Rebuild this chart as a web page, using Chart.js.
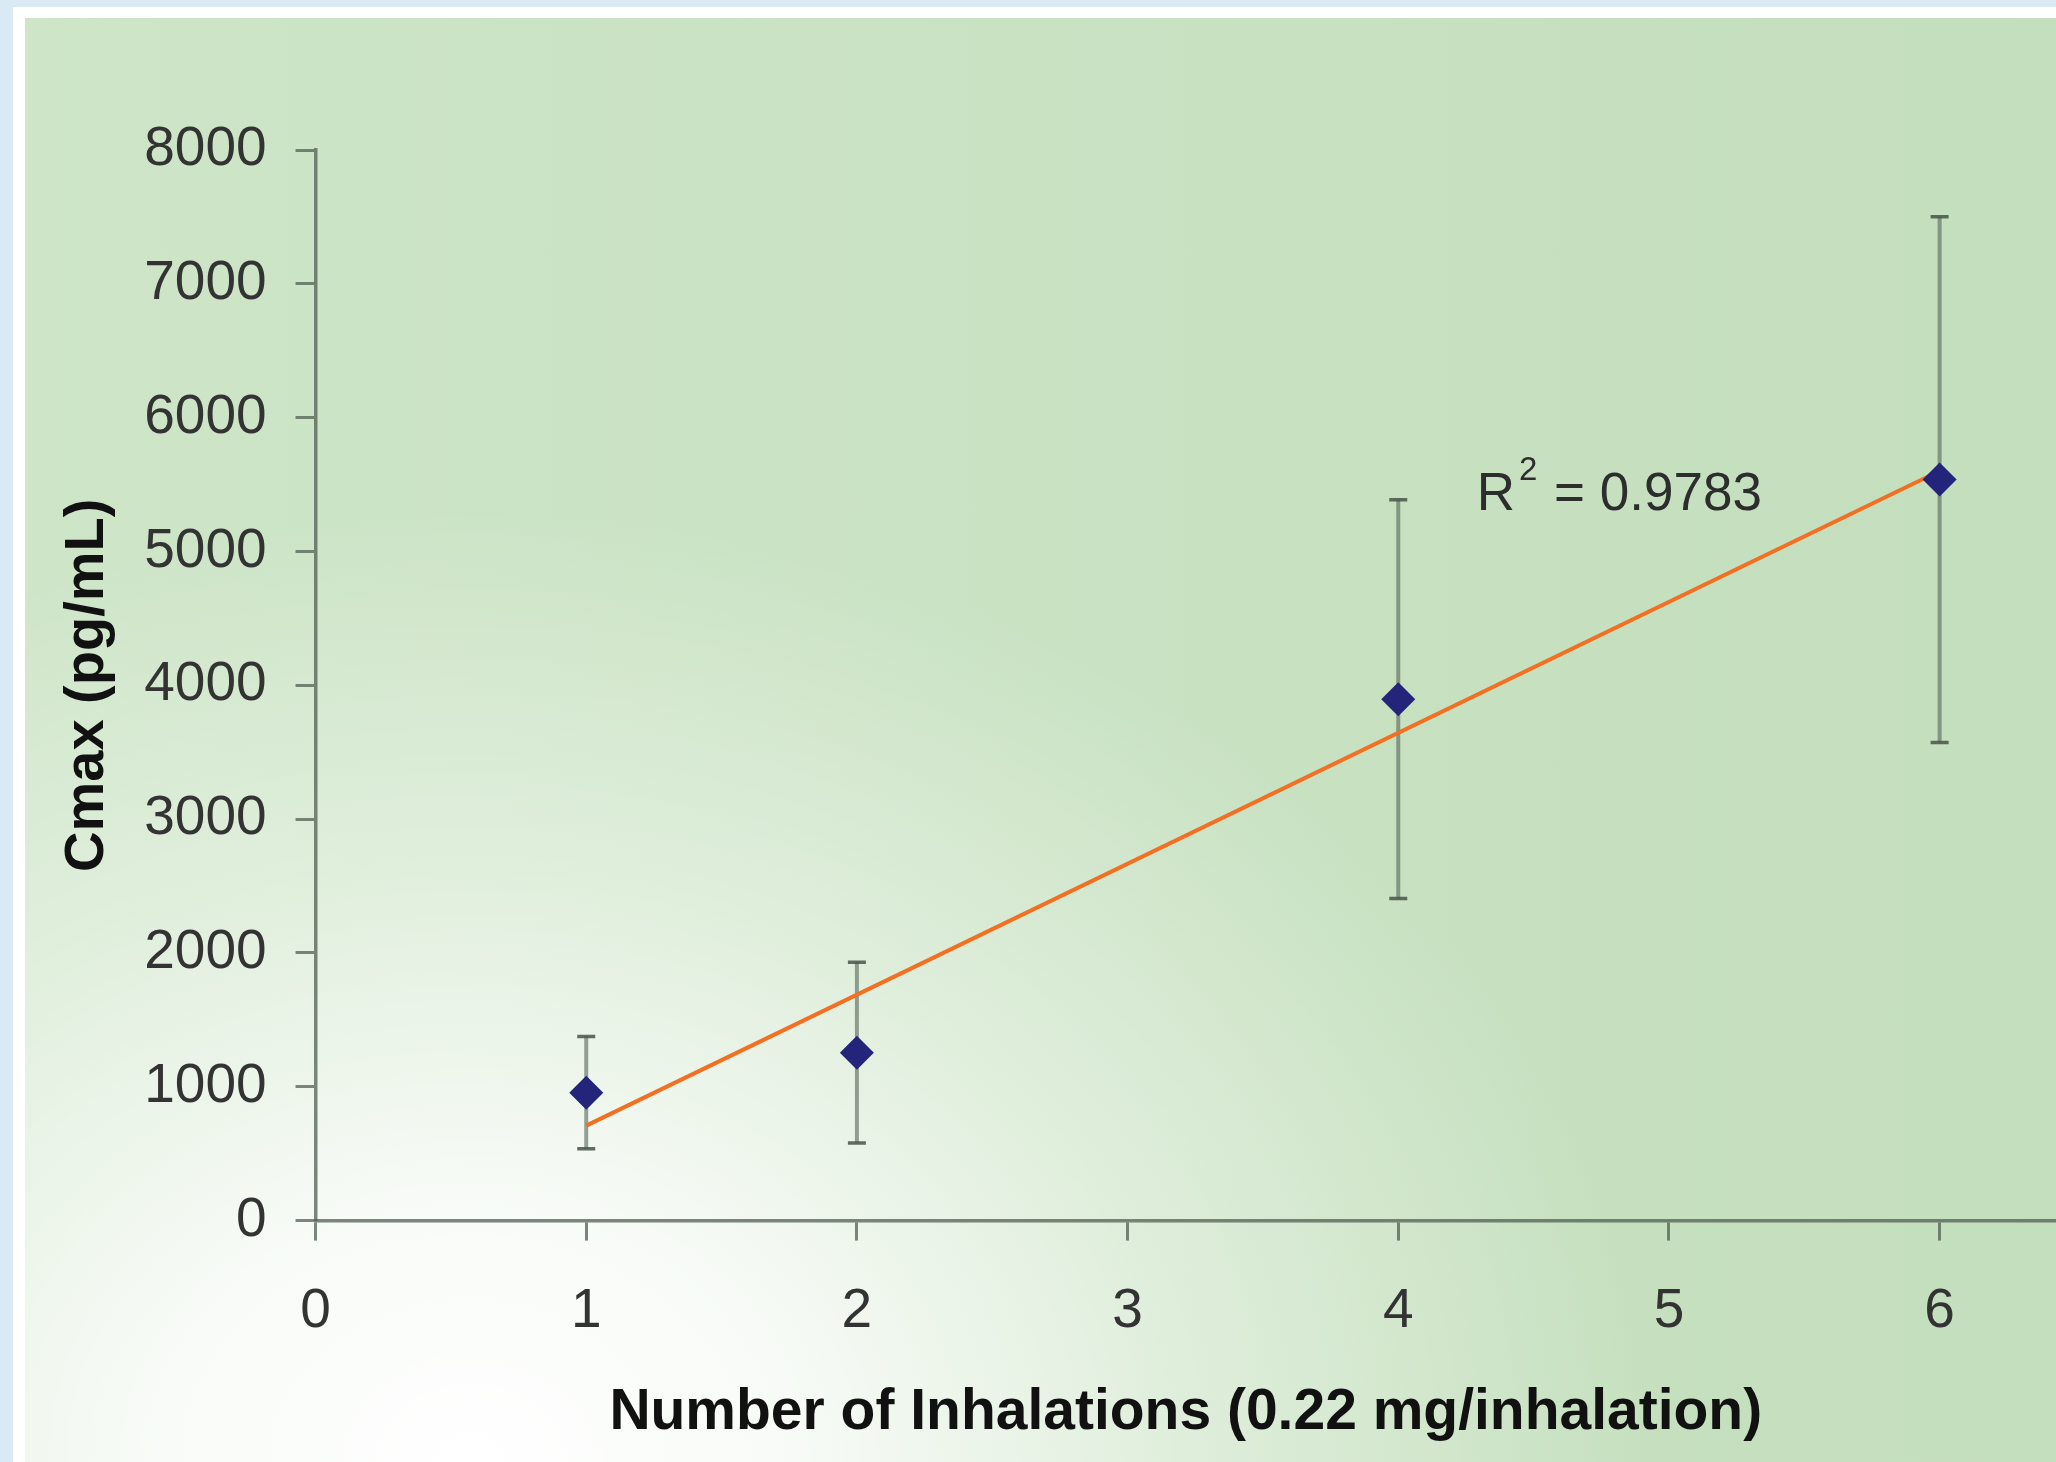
<!DOCTYPE html>
<html>
<head>
<meta charset="utf-8">
<script src="https://cdn.jsdelivr.net/npm/chart.js@4"></script>
<style>
  html, body { margin: 0; padding: 0; width: 2056px; height: 1462px; overflow: hidden; background: #d9eaf5; }
  #frame { position: absolute; left: 13px; top: 7px; right: 0; bottom: 0; background: #ffffff; }
  #panel {
    position: absolute; left: 25px; top: 18px; right: 0; bottom: 0;
    background:
      radial-gradient(ellipse 58% 66% at 22% 100%, rgba(255,255,255,1) 0%, rgba(255,255,255,0.85) 28%, rgba(255,255,255,0.4) 62%, rgba(255,255,255,0) 100%),
      linear-gradient(to right, #cee5c8, #c4dfbd);
  }
  #chart { position: absolute; left: 0; top: 0; }
</style>
</head>
<body>
<div id="frame"></div>
<div id="panel"></div>
<canvas id="chart" width="2056" height="1462"></canvas>
<script>
// data
const inhalations = [1, 2, 4, 6];
const cmaxMean = [956, 1255, 3896, 5537];
const cmaxSD = [420, 676, 1490, 1965];
const xTicks = [0, 1, 2, 3, 4, 5, 6];
const yTicks = [0, 1000, 2000, 3000, 4000, 5000, 6000, 7000, 8000];
const r2Text = '0.9783';
const r2At = [4.29, 5310]; // where the R² label sits, in data units

const navy = '#24247a';
const orange = '#f36f21';
const axisCol = 'rgba(80, 95, 82, 0.75)';
const errCol = 'rgba(85, 100, 88, 0.6)';
const capCol = 'rgba(70, 85, 72, 0.85)';
const font = "'Liberation Sans', Arial, sans-serif";

// linear trendline (least squares), drawn from first to last dose like Excel
function trend(xs, ys) {
    const n = xs.length;
    const mx = xs.reduce((a, b) => a + b, 0) / n;
    const my = ys.reduce((a, b) => a + b, 0) / n;
    let sxy = 0, sxx = 0;
    for (let i = 0; i < n; i++) {
        sxy += (xs[i] - mx) * (ys[i] - my);
        sxx += (xs[i] - mx) * (xs[i] - mx);
    }
    const slope = sxy / sxx;
    const icpt = my - slope * mx;
    const x0 = xs[0], x1 = xs[n - 1];
    return [{x: x0, y: icpt + slope * x0}, {x: x1, y: icpt + slope * x1}];
}

const errorBars = {
    id: 'errorBars',
    beforeDatasetsDraw(chart) {
        const {ctx, scales: {x, y}} = chart;
        ctx.save();
        inhalations.forEach((d, i) => {
            const px = x.getPixelForValue(d);
            const top = y.getPixelForValue(cmaxMean[i] + cmaxSD[i]);
            const bot = y.getPixelForValue(cmaxMean[i] - cmaxSD[i]);
            ctx.strokeStyle = errCol;
            ctx.lineWidth = 4;
            ctx.beginPath();
            ctx.moveTo(px, top);
            ctx.lineTo(px, bot);
            ctx.stroke();
            ctx.strokeStyle = capCol;
            ctx.lineWidth = 3.5;
            ctx.beginPath();
            ctx.moveTo(px - 9, top);
            ctx.lineTo(px + 9, top);
            ctx.moveTo(px - 9, bot);
            ctx.lineTo(px + 9, bot);
            ctx.stroke();
        });
        ctx.restore();
    }
};

const r2Label = {
    id: 'r2Label',
    afterDatasetsDraw(chart) {
        const {ctx, scales: {x, y}} = chart;
        let px = x.getPixelForValue(r2At[0]);
        const py = y.getPixelForValue(r2At[1]);
        ctx.save();
        ctx.fillStyle = '#2d2d2d';
        ctx.textBaseline = 'alphabetic';
        ctx.textAlign = 'left';
        ctx.font = '53px ' + font;
        ctx.fillText('R', px, py);
        px += ctx.measureText('R').width + 4;
        ctx.font = '33px ' + font;
        ctx.fillText('2', px, py - 30);
        px += ctx.measureText('2').width + 2;
        ctx.font = '53px ' + font;
        ctx.fillText(' = ' + r2Text, px, py);
        ctx.restore();
    }
};

const ctx = document.getElementById('chart').getContext('2d');
new Chart(ctx, {
    type: 'scatter',
    data: {
        datasets: [
            {
                label: 'Cmax',
                data: inhalations.map((d, i) => ({x: d, y: cmaxMean[i]})),
                pointStyle: 'rectRot',
                pointRadius: 17,
                pointBackgroundColor: navy,
                pointBorderWidth: 0,
                showLine: false,
                order: 0
            },
            {
                label: 'Trend',
                type: 'line',
                data: trend(inhalations, cmaxMean),
                borderColor: orange,
                borderWidth: 4,
                pointRadius: 0,
                fill: false,
                order: 1
            }
        ]
    },
    options: {
        responsive: false,
        animation: false,
        layout: {
            autoPadding: false,
            padding: {left: 54, top: 150, right: 0, bottom: 0}
        },
        scales: {
            x: {
                type: 'linear',
                min: 0,
                max: 6.43,
                afterBuildTicks: (axis) => { axis.ticks = xTicks.map(v => ({value: v})); },
                afterFit: (axis) => { axis.paddingRight = 0; },
                ticks: {
                    stepSize: 1,
                    includeBounds: false,
                    padding: 38,
                    color: '#333',
                    font: {family: font, size: 55},
                    callback: (v) => String(v)
                },
                grid: {
                    drawOnChartArea: false,
                    drawTicks: true,
                    tickLength: 20,
                    tickWidth: 3,
                    tickColor: axisCol
                },
                border: {display: true, color: axisCol, width: 3.5},
                title: {
                    display: true,
                    text: 'Number of Inhalations (0.22 mg/inhalation)',
                    color: '#111',
                    font: {family: font, size: 57, weight: 'bold'},
                    padding: {top: -4, bottom: 15}
                }
            },
            y: {
                min: 0,
                max: 8000,
                afterBuildTicks: (axis) => { axis.ticks = yTicks.map(v => ({value: v})); },
                ticks: {
                    stepSize: 1000,
                    padding: 29,
                    color: '#333',
                    font: {family: font, size: 55},
                    callback: (v) => String(v)
                },
                grid: {
                    drawOnChartArea: false,
                    drawTicks: true,
                    tickLength: 20,
                    tickWidth: 3,
                    tickColor: axisCol
                },
                border: {display: true, color: axisCol, width: 3.5},
                title: {
                    display: true,
                    text: 'Cmax (pg/mL)',
                    color: '#111',
                    font: {family: font, size: 56, weight: 'bold'},
                    padding: {top: 0, bottom: -6}
                }
            }
        },
        plugins: {
            legend: {display: false},
            tooltip: {enabled: false}
        }
    },
    plugins: [errorBars, r2Label]
});
</script>
</body>
</html>
